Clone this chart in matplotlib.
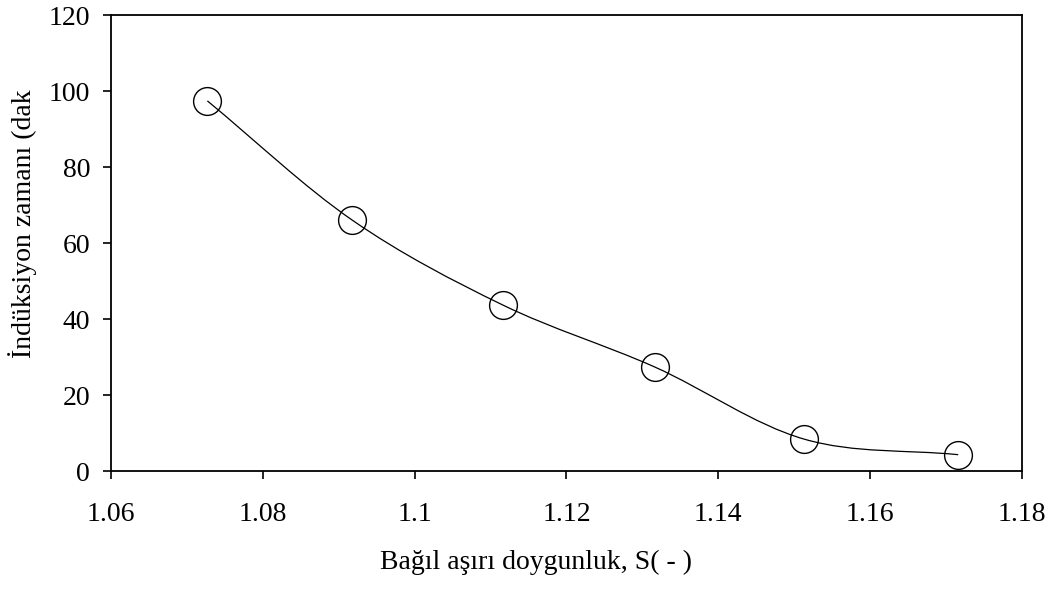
import numpy as np
import matplotlib
matplotlib.use("Agg")
import matplotlib.pyplot as plt
from matplotlib.path import Path
from matplotlib.patches import PathPatch

plt.rcParams["font.family"] = ["Liberation Serif", "DejaVu Serif"]

# Relative supersaturation vs. induction time
supersat = [1.0727, 1.0918, 1.1116, 1.1316, 1.1513, 1.1716]
induction_min = [97.4, 66.0, 43.7, 27.4, 8.4, 4.3]

x_ticks = [1.06, 1.08, 1.1, 1.12, 1.14, 1.16, 1.18]
x_ticklabels = ["1.06", "1.08", "1.1", "1.12", "1.14", "1.16", "1.18"]
y_ticks = [0, 20, 40, 60, 80, 100, 120]

fig = plt.figure(figsize=(10.61, 5.89), dpi=100)
ax = fig.add_axes([0.1046, 0.2003, 0.8586, 0.7742])
ax.set_xlim(1.06, 1.18)
ax.set_ylim(0, 120)

# Smooth curve through the points (Catmull-Rom segments as cubic Beziers in display space)
pts = ax.transData.transform(np.column_stack([supersat, induction_min]))
ext = np.vstack([2 * pts[0] - pts[1], pts, 2 * pts[-1] - pts[-2]])
verts = [tuple(pts[0])]
codes = [Path.MOVETO]
for i in range(1, len(ext) - 2):
    p0, p1, p2, p3 = ext[i - 1], ext[i], ext[i + 1], ext[i + 2]
    c1 = p1 + (p2 - p0) / 6.0
    c2 = p2 - (p3 - p1) / 6.0
    verts += [tuple(c1), tuple(c2), tuple(p2)]
    codes += [Path.CURVE4] * 3
curve = PathPatch(Path(verts, codes), facecolor="none", edgecolor="black",
                  linewidth=0.9, transform=None)
ax.add_patch(curve)

ax.plot(supersat, induction_min, linestyle="none", marker="o", markersize=20,
        markerfacecolor="none", markeredgecolor="black", markeredgewidth=1.0,
        zorder=3)

ax.set_xticks(x_ticks)
ax.set_xticklabels(x_ticklabels)
ax.set_yticks(y_ticks)
ax.tick_params(axis="both", direction="out", length=6, width=1.2,
               labelsize=20, colors="black")
ax.tick_params(axis="x", pad=16)
ax.tick_params(axis="y", pad=9)
for s in ax.spines.values():
    s.set_linewidth(1.3)

fig.text(536 / 1061, 1 - 562 / 589, "Bağıl aşırı doygunluk, S( - )",
         ha="center", va="center", fontsize=20)
fig.text(23 / 1061, 1 - 224 / 589, "İndüksiyon zamanı (dak",
         ha="center", va="center", rotation=90, fontsize=20)

fig.savefig("out.png", dpi=100)
